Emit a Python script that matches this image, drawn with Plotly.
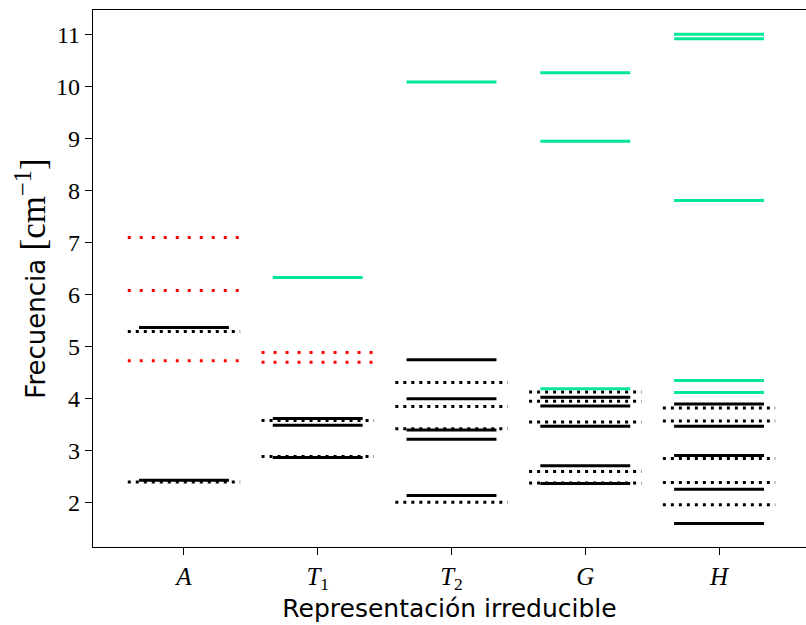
import plotly.graph_objects as go

# Irreducible representations (x categories)
categories = ["A", "T1", "T2", "G", "H"]
tick_labels = ["<i>A</i>", "<i>T</i><sub>1</sub>", "<i>T</i><sub>2</sub>", "<i>G</i>", "<i>H</i>"]

# Frequency levels per representation [cm^-1]
solid_black = {
    "A": [2.43, 5.37],
    "T1": [2.87, 3.49, 3.62],
    "T2": [2.14, 3.22, 3.40, 4.00, 4.75],
    "G": [2.37, 2.71, 3.47, 3.86, 4.03],
    "H": [1.60, 2.26, 2.91, 3.47, 3.90],
}
dotted_black = {
    "A": [2.40, 5.29],
    "T1": [2.89, 3.58],
    "T2": [2.01, 3.42, 3.85, 4.31],
    "G": [2.38, 2.60, 3.55, 3.95, 4.13],
    "H": [1.96, 2.39, 2.85, 3.57, 3.82],
}
dotted_red = {
    "A": [4.73, 6.08, 7.10],
    "T1": [4.70, 4.89],
}
solid_green = {
    "T1": [6.33],
    "T2": [10.09],
    "G": [4.19, 8.95, 10.27],
    "H": [4.12, 4.35, 7.81, 10.92, 11.01],
}


def segments(levels, half):
    xs, ys = [], []
    for cat, vals in levels.items():
        c = categories.index(cat)
        for v in vals:
            xs += [c - half, c + half, None]
            ys += [v, v, None]
    return xs, ys


fig = go.Figure()

styles = [
    (solid_black, 0.336, dict(color="black", width=3, dash="solid")),
    (dotted_black, 0.42, dict(color="black", width=3, dash="3px,5px")),
    (dotted_red, 0.42, dict(color="#ff0000", width=3, dash="3px,9px")),
    (solid_green, 0.336, dict(color="#00e896", width=3, dash="solid")),
]
for levels, half, line in styles:
    xs, ys = segments(levels, half)
    fig.add_trace(go.Scatter(x=xs, y=ys, mode="lines", line=line,
                             hoverinfo="skip", showlegend=False))

serif = "Liberation Serif, DejaVu Serif, serif"
sans = "DejaVu Sans, sans-serif"

fig.update_layout(
    width=806, height=625,
    margin=dict(l=93, r=0, t=10, b=78),
    plot_bgcolor="white", paper_bgcolor="white",
    xaxis=dict(
        range=[-0.68, 4.65],
        tickvals=list(range(len(categories))),
        ticktext=tick_labels,
        tickfont=dict(family=serif, size=25, color="black"),
        ticks="outside", ticklen=7, tickwidth=1.3, tickcolor="black",
        showline=True, linecolor="black", linewidth=1.3, mirror=True,
        showgrid=False, zeroline=False,
        title=dict(text="Representación irreducible",
                   font=dict(family=sans, size=25, color="black"), standoff=4),
    ),
    yaxis=dict(
        range=[1.148, 11.475],
        tickvals=list(range(2, 12)),
        tickfont=dict(family=serif, size=24, color="black"),
        ticks="outside", ticklen=7, tickwidth=1.3, tickcolor="black",
        showline=True, linecolor="black", linewidth=1.3, mirror=False,
        showgrid=False, zeroline=False,
        title=dict(text="Frecuencia <span style='font-family:Liberation Serif;font-size:35px'>[cm<sup>−1</sup>]</span>",
                   font=dict(family=sans, size=26, color="black"), standoff=2),
    ),
)

fig.write_html("out.html")
